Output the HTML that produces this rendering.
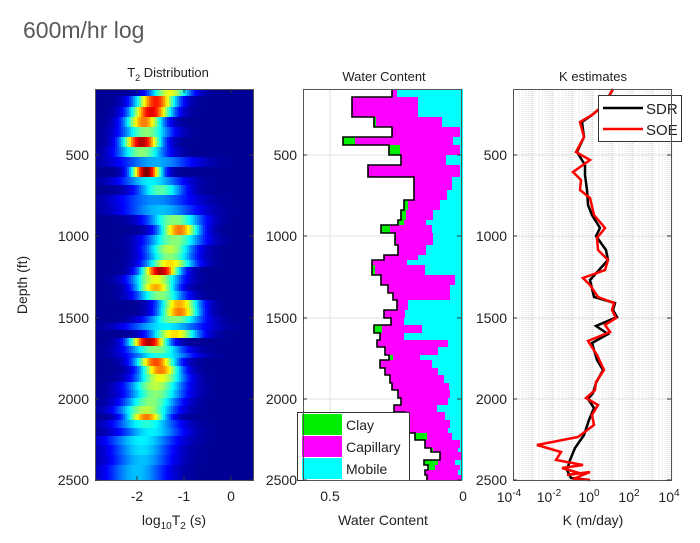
<!DOCTYPE html>
<html><head><meta charset="utf-8"><style>
html,body{margin:0;padding:0;background:#fff;}
svg text{font-family:"Liberation Sans",sans-serif;fill:#222;}
</style></head><body>
<svg id="s" width="700" height="538" xmlns="http://www.w3.org/2000/svg">
<rect width="700" height="538" fill="#fff"/>
<text x="23" y="38" font-size="23" style="fill:#595959">600m/hr log</text>
<g id="heat"></g>
<g id="wc"></g>
<g id="kp"></g>
<g id="ax" font-size="13"></g>
</svg>
<script>
const NS="http://www.w3.org/2000/svg";
function el(p,t,a,txt){const e=document.createElementNS(NS,t);for(const k in a)e.setAttribute(k,a[k]);if(txt!==undefined)e.textContent=txt;p.appendChild(e);return e;}
function jet(v){v=Math.max(0,Math.min(1,v));
 function c(x){return Math.max(0,Math.min(1,x));}
 const r=c(1.5-Math.abs(4*v-3)),g=c(1.5-Math.abs(4*v-2)),b=c(1.5-Math.abs(4*v-1));
 return `rgb(${Math.round(r*255)},${Math.round(g*255)},${Math.round(b*255)})`;}
const heat=document.getElementById('heat');
const rows=[[89,96,-1.3,0.6,0.3],[96,107,-1.6,0.85,0.3],[107,117,-1.7,0.9,0.3],[117,127,-1.85,0.75,0.28],[127,137,-1.8,0.5,0.35],[137,147,-1.9,0.95,0.28],[147,157,-1.9,0.5,0.35],[157,167,-1.6,0.28,0.55],[167,177,-1.8,1.0,0.22],[177,185,-1.7,0.35,0.45],[185,195,-1.5,0.45,0.35],[195,205,-1.6,0.25,0.55],[205,215,-1.5,0.3,0.55],[215,225,-1.2,0.5,0.4],[225,235,-1.1,0.75,0.3],[235,245,-1.2,0.5,0.4],[245,253,-1.3,0.55,0.35],[253,260,-1.3,0.5,0.35],[260,267,-1.3,0.65,0.35],[267,275,-1.5,0.95,0.28],[275,284,-1.6,0.6,0.35],[284,291,-1.6,0.7,0.3],[291,300,-1.5,0.5,0.35],[300,308,-1.1,0.7,0.3],[308,316,-1.1,0.75,0.3],[316,323,-1.2,0.5,0.4],[323,330,-1.4,0.35,0.55],[330,338,-1.2,0.65,0.35],[338,346,-1.75,0.95,0.28],[346,353,-1.6,0.5,0.4],[353,358,-1.5,0.4,0.45],[358,366,-1.6,0.8,0.3],[366,374,-1.5,0.75,0.3],[374,382,-1.5,0.6,0.35],[382,390,-1.6,0.55,0.4],[390,398,-1.6,0.5,0.4],[398,406,-1.7,0.5,0.4],[406,414,-1.8,0.55,0.4],[414,420,-1.8,0.75,0.3],[420,428,-1.8,0.4,0.45],[428,436,-1.7,0.35,0.45],[436,445,-1.9,0.35,0.5],[445,455,-1.9,0.33,0.45],[455,465,-1.9,0.3,0.45],[465,475,-2.0,0.3,0.45],[475,480,-2.0,0.3,0.45]];
el(heat,'rect',{x:95,y:89,width:158,height:391,fill:jet(0.02)});
for(const [y0,y1,c,a,w] of rows){
 for(let x=95;x<253;x+=2){const l=(x+1-231)/47;const v=0.02+a*Math.exp(-Math.pow((l-c)/w,2)/2)*0.98;
  el(heat,'rect',{x:x,y:y0,width:2.3,height:y1-y0+0.3,fill:jet(v)});}
}
const wc=document.getElementById('wc');
const W=[[89,97,392,392,397],[97,117,352,352,418],[117,127,374,376,442],[127,137,392,392,460],[137,145,343,355,453],[145,155,389,400,460],[155,165,401,401,446],[165,177,368,368,460],[177,190,414,414,452],[190,200,414,414,447],[200,210,404,408,440],[210,220,401,406,433],[220,225,398,404,426],[225,233,381,390,432],[233,245,395,396,433],[245,255,398,398,426],[255,260,384,384,418],[260,265,372,372,407],[265,275,372,375,425],[275,285,381,381,455],[285,293,388,388,450],[293,300,393,393,450],[300,310,397,397,408],[310,318,384,384,405],[318,325,391,391,404],[325,333,374,382,422],[333,340,380,380,404],[340,347,377,377,448],[347,355,385,385,438],[355,360,389,393,420],[360,368,380,380,432],[368,375,385,385,438],[375,383,390,390,444],[383,390,392,392,449],[390,398,398,398,450],[398,405,401,401,448],[405,412,394,394,437],[412,420,405,405,445],[420,428,408,408,450],[428,433,409,409,448],[433,440,415,427,452],[440,448,425,425,460],[448,452,431,433,458],[452,460,440,440,462],[460,465,424,438,455],[465,470,428,435,460],[470,475,425,425,458],[475,480,427,427,462]];
el(wc,'line',{x1:330,y1:89,x2:330,y2:480,stroke:'#e0e0e0'});
for(const y of [155,236,318,399])el(wc,'line',{x1:303,y1:y,x2:463,y2:y,stroke:'#e0e0e0'});
let pts=[];
for(const [y0,y1,T,C,M] of W){
 el(wc,'rect',{x:T,y:y0,width:C-T+0.3,height:y1-y0+0.3,fill:'#00ee00'});
 el(wc,'rect',{x:C,y:y0,width:M-C+0.3,height:y1-y0+0.3,fill:'#ff00ff'});
 el(wc,'rect',{x:M,y:y0,width:463-M,height:y1-y0+0.3,fill:'#00ffff'});
 pts.push(T+','+y0,T+','+y1);}
el(wc,'polyline',{points:pts.join(' '),fill:'none',stroke:'#000','stroke-width':1.6});
el(wc,'rect',{x:297.5,y:412.5,width:112,height:68,fill:'#fff',stroke:'#333'});
el(wc,'rect',{x:302,y:414,width:40,height:21,fill:'#00ee00'});
el(wc,'rect',{x:302,y:436,width:40,height:21,fill:'#ff00ff'});
el(wc,'rect',{x:302,y:458,width:40,height:21,fill:'#00ffff'});
el(wc,'text',{x:346,y:430,'font-size':14},'Clay');
el(wc,'text',{x:346,y:452,'font-size':14},'Capillary');
el(wc,'text',{x:346,y:474,'font-size':14},'Mobile');
const kp=document.getElementById('kp');
for(let d=-4;d<4;d++){for(let m=2;m<10;m++){const x=593+20*(d+Math.log10(m));el(kp,'line',{x1:x,y1:89,x2:x,y2:480,stroke:'#d8d8d8','stroke-dasharray':'1,1','stroke-width':0.7});}}
for(let d=-3;d<4;d++){const x=593+20*d;el(kp,'line',{x1:x,y1:89,x2:x,y2:480,stroke:'#d0d0d0','stroke-dasharray':'1,1'});}
for(const y of [155,236,318,399])el(kp,'line',{x1:513,y1:y,x2:673,y2:y,stroke:'#e0e0e0'});
const SDR=[[613,89],[604,105],[592,115],[582,122],[584,137],[577,152],[585,165],[585,175],[587,190],[588,205],[592,215],[600,228],[596,236],[606,250],[608,260],[590,280],[594,297],[615,303],[613,310],[617,317],[596,326],[608,334],[592,343],[597,360],[603,370],[596,383],[593,393],[588,399],[594,408],[589,420],[584,435],[575,448],[570,460],[567,470],[571,478],[590,480]];
const SOE=[[613,89],[604,105],[592,115],[580,122],[584,137],[576,152],[590,160],[573,172],[581,180],[580,190],[590,198],[594,215],[605,228],[597,238],[598,250],[608,260],[605,270],[583,278],[590,285],[598,297],[614,303],[612,310],[616,318],[605,325],[610,332],[588,341],[597,355],[604,370],[596,382],[595,390],[586,398],[598,405],[592,415],[594,425],[578,437],[537,445],[561,452],[556,460],[583,465],[562,468],[579,473],[567,475],[590,472],[573,479],[590,480]];
el(kp,'polyline',{points:SDR.map(p=>p.join(',')).join(' '),fill:'none',stroke:'#000','stroke-width':2.5});
el(kp,'polyline',{points:SOE.map(p=>p.join(',')).join(' '),fill:'none',stroke:'#f00','stroke-width':2.5});
el(kp,'rect',{x:598.5,y:95.5,width:83,height:46,fill:'#fff',stroke:'#333'});
el(kp,'line',{x1:603,y1:108,x2:643,y2:108,stroke:'#000','stroke-width':2.5});
el(kp,'line',{x1:603,y1:129,x2:643,y2:129,stroke:'#f00','stroke-width':2.5});
el(kp,'text',{x:646,y:114,'font-size':15},'SDR');
el(kp,'text',{x:646,y:135,'font-size':15},'SOE');
const ax=document.getElementById('ax');
const ys=[[155,'500'],[236,'1000'],[318,'1500'],[399,'2000'],[480,'2500']];
for(const L of [95,303,513]){
 el(ax,'rect',{x:L+0.5,y:89.5,width:158,height:391,fill:'none',stroke:'#555','stroke-width':1});
 for(const [y,t] of ys){el(ax,'line',{x1:L,y1:y,x2:L+4,y2:y,stroke:'#333'});el(ax,'line',{x1:L+158,y1:y,x2:L+154,y2:y,stroke:'#333'});
  el(ax,'text',{x:L-6,y:y+5,'text-anchor':'end','font-size':14},t);}
}
for(const [x,t] of [[137,'-2'],[184,'-1'],[231,'0']]){el(ax,'line',{x1:x,y1:480,x2:x,y2:476,stroke:'#333'});el(ax,'line',{x1:x,y1:89,x2:x,y2:93,stroke:'#333'});el(ax,'text',{x:x,y:501,'text-anchor':'middle','font-size':14},t);}
for(const [x,t] of [[330,'0.5'],[463,'0']]){el(ax,'text',{x:x,y:501,'text-anchor':'middle','font-size':14},t);}
for(const d of [-4,-2,0,2,4]){const x=593+20*d;const t=el(ax,'text',{x:x-4,y:502,'text-anchor':'middle','font-size':14},'10');el(t,'tspan',{dy:-6,'font-size':10},String(d));}
el(ax,'text',{x:383,y:525,'text-anchor':'middle','font-size':14},'Water Content');
el(ax,'text',{x:593,y:525,'text-anchor':'middle','font-size':14},'K (m/day)');
el(ax,'text',{x:384,y:81,'text-anchor':'middle','font-size':13},'Water Content');
el(ax,'text',{x:593,y:81,'text-anchor':'middle','font-size':13},'K estimates');
const tt=el(ax,'text',{x:168,y:77,'text-anchor':'middle','font-size':13});
el(tt,'tspan',{},'T');el(tt,'tspan',{dy:4,'font-size':9},'2');el(tt,'tspan',{dy:-4},' Distribution');
el(ax,'text',{x:0,y:0,'text-anchor':'middle','font-size':14,transform:'translate(27,285) rotate(-90)'},'Depth (ft)');
const t=el(ax,'text',{x:174,y:525,'text-anchor':'middle','font-size':14});
el(t,'tspan',{},'log');el(t,'tspan',{dy:4,'font-size':10},'10');el(t,'tspan',{dy:-4},'T');el(t,'tspan',{dy:4,'font-size':10},'2');el(t,'tspan',{dy:-4},' (s)');
</script>
</body></html>
